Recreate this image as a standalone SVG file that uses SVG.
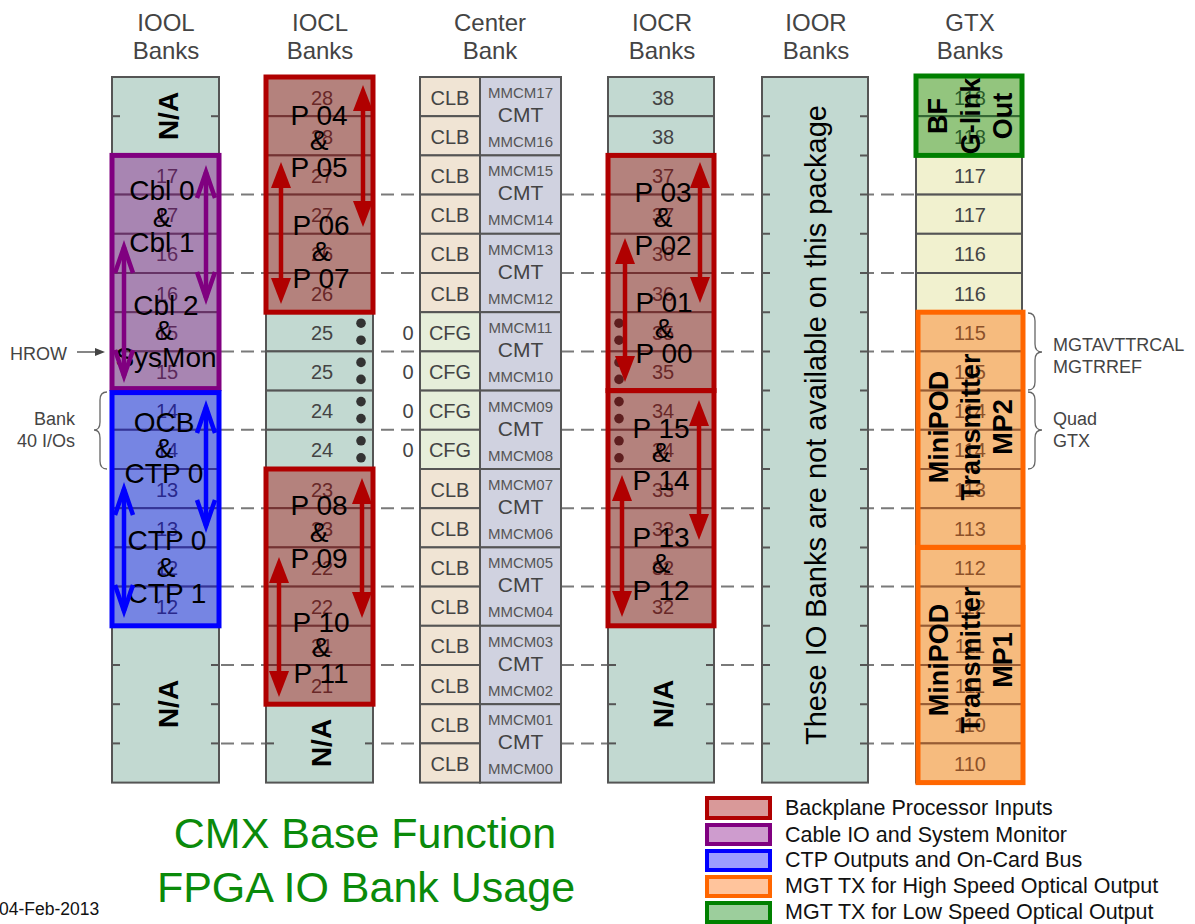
<svg xmlns="http://www.w3.org/2000/svg" width="1195" height="924" viewBox="0 0 1195 924">
<defs>
<style>
text{font-family:"Liberation Sans",Arial,sans-serif}
.hdr{font-size:24px;fill:#444;text-anchor:middle}
.cell{fill:#c2d9d1;stroke:#555;stroke-width:2}
.clb{fill:#f0e4d4;stroke:#555;stroke-width:2}
.cfg{fill:#e6eeda;stroke:#555;stroke-width:2}
.cmt{fill:#d0d2e0;stroke:#555;stroke-width:2}
.gtx{fill:#f1f1cf;stroke:#555;stroke-width:2}
.num{font-size:20px;fill:#444;text-anchor:middle}
.mm{font-size:15px;fill:#555;text-anchor:middle}
.cmtt{font-size:21px;fill:#444;text-anchor:middle}
.tick{stroke:#555;stroke-width:2}
.dot{fill:#333}
.na{font-size:28px;font-weight:bold;fill:#000;text-anchor:middle}
.big{font-size:28px;fill:#000;text-anchor:middle}
.bigb{font-size:27px;font-weight:bold;fill:#000;text-anchor:middle}
.dash{stroke:#7a7a7a;stroke-width:2;stroke-dasharray:13 7}
.ovR{fill:#a00000;fill-opacity:.4;stroke:#b00000;stroke-width:5}
.ovP{fill:#800080;fill-opacity:.39;stroke:#800080;stroke-width:5}
.ovB{fill:#0000ff;fill-opacity:.39;stroke:#0000ff;stroke-width:5}
.ovO{fill:#ff6600;fill-opacity:.39;stroke:#ff6600;stroke-width:5}
.ovG{fill:#008000;fill-opacity:.39;stroke:#008000;stroke-width:5}
.side{font-size:18px;fill:#444}
.brace{fill:none;stroke:#666;stroke-width:1.3}
.leg{font-size:21.5px;fill:#111}
.title{font-size:43px;fill:#0a8a0a;text-anchor:middle}
.aR{stroke:#b00000;stroke-width:4.5;fill:none;marker-start:url(#hR);marker-end:url(#hR)}
.aP{stroke:#800080;stroke-width:4.5;fill:none;marker-start:url(#hP);marker-end:url(#hP)}
.aB{stroke:#0000ff;stroke-width:4.5;fill:none;marker-start:url(#hB);marker-end:url(#hB)}
</style>
<marker id="hR" markerUnits="userSpaceOnUse" markerWidth="30" markerHeight="24" viewBox="0 0 30 24" refX="16" refY="12" orient="auto-start-reverse"><path d="M0,2 L26,12 L0,22 z" fill="#b00000"/></marker>
<marker id="hP" markerUnits="userSpaceOnUse" markerWidth="40" markerHeight="30" viewBox="-4 -3 40 30" refX="27" refY="12" orient="auto-start-reverse" overflow="visible"><path d="M1,3 L27,12 L1,21" fill="none" stroke="#800080" stroke-width="4.5"/></marker>
<marker id="hB" markerUnits="userSpaceOnUse" markerWidth="40" markerHeight="30" viewBox="-4 -3 40 30" refX="27" refY="12" orient="auto-start-reverse" overflow="visible"><path d="M1,3 L27,12 L1,21" fill="none" stroke="#0000ff" stroke-width="4.5"/></marker>
<marker id="hG" markerUnits="userSpaceOnUse" markerWidth="10" markerHeight="8" viewBox="0 0 10 8" refX="0" refY="4" orient="auto"><path d="M0,0 L10,4 L0,8 z" fill="#444"/></marker>
</defs>
<rect width="1195" height="924" fill="#fff"/>

<g id="headers">
<text class="hdr" x="166" y="31">IOOL</text><text class="hdr" x="166" y="59">Banks</text>
<text class="hdr" x="320" y="31">IOCL</text><text class="hdr" x="320" y="59">Banks</text>
<text class="hdr" x="490" y="31">Center</text><text class="hdr" x="490" y="59">Bank</text>
<text class="hdr" x="662" y="31">IOCR</text><text class="hdr" x="662" y="59">Banks</text>
<text class="hdr" x="816" y="31">IOOR</text><text class="hdr" x="816" y="59">Banks</text>
<text class="hdr" x="970" y="31">GTX</text><text class="hdr" x="970" y="59">Banks</text>
</g>

<g id="clock-rows">
<line class="dash" x1="221" y1="194.6" x2="914" y2="194.6"/>
<line class="dash" x1="221" y1="273" x2="914" y2="273"/>
<line class="dash" x1="221" y1="351.4" x2="914" y2="351.4"/>
<line class="dash" x1="221" y1="429.8" x2="914" y2="429.8"/>
<line class="dash" x1="221" y1="508.2" x2="914" y2="508.2"/>
<line class="dash" x1="221" y1="586.6" x2="914" y2="586.6"/>
<line class="dash" x1="221" y1="665" x2="914" y2="665"/>
<line class="dash" x1="221" y1="743.4" x2="914" y2="743.4"/>
</g>

<g id="iool">
<rect class="cell" x="112" y="77" width="107" height="78.4"/>
<line class="tick" x1="112" y1="116.2" x2="120" y2="116.2"/><line class="tick" x1="211" y1="116.2" x2="219" y2="116.2"/>
<text class="na" transform="translate(178,116) rotate(-90)">N/A</text>
<rect class="cell" x="112" y="155.4" width="107" height="39.2"/><text class="num" x="167" y="182.9">17</text>
<rect class="cell" x="112" y="194.6" width="107" height="39.2"/><text class="num" x="167" y="222.1">17</text>
<rect class="cell" x="112" y="233.8" width="107" height="39.2"/><text class="num" x="167" y="261.3">16</text>
<rect class="cell" x="112" y="273" width="107" height="39.2"/><text class="num" x="167" y="300.5">16</text>
<rect class="cell" x="112" y="312.2" width="107" height="39.2"/><text class="num" x="167" y="339.7">15</text>
<rect class="cell" x="112" y="351.4" width="107" height="39.2"/><text class="num" x="167" y="378.9">15</text>
<rect class="cell" x="112" y="390.6" width="107" height="39.2"/><text class="num" x="167" y="418.1">14</text>
<rect class="cell" x="112" y="429.8" width="107" height="39.2"/><text class="num" x="167" y="457.3">14</text>
<rect class="cell" x="112" y="469" width="107" height="39.2"/><text class="num" x="167" y="496.5">13</text>
<rect class="cell" x="112" y="508.2" width="107" height="39.2"/><text class="num" x="167" y="535.7">13</text>
<rect class="cell" x="112" y="547.4" width="107" height="39.2"/><text class="num" x="167" y="574.9">12</text>
<rect class="cell" x="112" y="586.6" width="107" height="39.2"/><text class="num" x="167" y="614.1">12</text>
<rect class="cell" x="112" y="625.8" width="107" height="156.8"/>
<line class="tick" x1="112" y1="665" x2="120" y2="665"/><line class="tick" x1="211" y1="665" x2="219" y2="665"/>
<line class="tick" x1="112" y1="704.2" x2="120" y2="704.2"/><line class="tick" x1="211" y1="704.2" x2="219" y2="704.2"/>
<line class="tick" x1="112" y1="743.4" x2="120" y2="743.4"/><line class="tick" x1="211" y1="743.4" x2="219" y2="743.4"/>
<text class="na" transform="translate(178,704) rotate(-90)">N/A</text>
</g>

<g id="iocl">
<rect class="cell" x="266" y="77" width="107" height="39.2"/><text class="num" x="322" y="104.5">28</text>
<rect class="cell" x="266" y="116.2" width="107" height="39.2"/><text class="num" x="322" y="143.7">28</text>
<rect class="cell" x="266" y="155.4" width="107" height="39.2"/><text class="num" x="322" y="182.9">27</text>
<rect class="cell" x="266" y="194.6" width="107" height="39.2"/><text class="num" x="322" y="222.1">27</text>
<rect class="cell" x="266" y="233.8" width="107" height="39.2"/><text class="num" x="322" y="261.3">26</text>
<rect class="cell" x="266" y="273" width="107" height="39.2"/><text class="num" x="322" y="300.5">26</text>
<rect class="cell" x="266" y="312.2" width="107" height="39.2"/><text class="num" x="322" y="339.7">25</text>
<rect class="cell" x="266" y="351.4" width="107" height="39.2"/><text class="num" x="322" y="378.9">25</text>
<rect class="cell" x="266" y="390.6" width="107" height="39.2"/><text class="num" x="322" y="418.1">24</text>
<rect class="cell" x="266" y="429.8" width="107" height="39.2"/><text class="num" x="322" y="457.3">24</text>
<rect class="cell" x="266" y="469" width="107" height="39.2"/><text class="num" x="322" y="496.5">23</text>
<rect class="cell" x="266" y="508.2" width="107" height="39.2"/><text class="num" x="322" y="535.7">23</text>
<rect class="cell" x="266" y="547.4" width="107" height="39.2"/><text class="num" x="322" y="574.9">22</text>
<rect class="cell" x="266" y="586.6" width="107" height="39.2"/><text class="num" x="322" y="614.1">22</text>
<rect class="cell" x="266" y="625.8" width="107" height="39.2"/><text class="num" x="322" y="653.3">21</text>
<rect class="cell" x="266" y="665" width="107" height="39.2"/><text class="num" x="322" y="692.5">21</text>
<circle class="dot" cx="361" cy="323.2" r="4.8"/><circle class="dot" cx="361" cy="340.2" r="4.8"/>
<circle class="dot" cx="361" cy="362.4" r="4.8"/><circle class="dot" cx="361" cy="379.4" r="4.8"/>
<circle class="dot" cx="361" cy="401.6" r="4.8"/><circle class="dot" cx="361" cy="418.6" r="4.8"/>
<circle class="dot" cx="361" cy="440.8" r="4.8"/><circle class="dot" cx="361" cy="457.8" r="4.8"/>
<rect class="cell" x="266" y="704.2" width="107" height="78.4"/>
<line class="tick" x1="266" y1="743.4" x2="274" y2="743.4"/><line class="tick" x1="365" y1="743.4" x2="373" y2="743.4"/>
<text class="na" transform="translate(331,743) rotate(-90)">N/A</text>
</g>

<g id="center">
<rect class="clb" x="420" y="77" width="60" height="39.2"/><text class="num" x="450" y="104.5">CLB</text>
<rect class="clb" x="420" y="116.2" width="60" height="39.2"/><text class="num" x="450" y="143.7">CLB</text>
<rect class="clb" x="420" y="155.4" width="60" height="39.2"/><text class="num" x="450" y="182.9">CLB</text>
<rect class="clb" x="420" y="194.6" width="60" height="39.2"/><text class="num" x="450" y="222.1">CLB</text>
<rect class="clb" x="420" y="233.8" width="60" height="39.2"/><text class="num" x="450" y="261.3">CLB</text>
<rect class="clb" x="420" y="273" width="60" height="39.2"/><text class="num" x="450" y="300.5">CLB</text>
<rect class="cfg" x="420" y="312.2" width="60" height="39.2"/><text class="num" x="450" y="339.7">CFG</text>
<rect class="cfg" x="420" y="351.4" width="60" height="39.2"/><text class="num" x="450" y="378.9">CFG</text>
<rect class="cfg" x="420" y="390.6" width="60" height="39.2"/><text class="num" x="450" y="418.1">CFG</text>
<rect class="cfg" x="420" y="429.8" width="60" height="39.2"/><text class="num" x="450" y="457.3">CFG</text>
<rect class="clb" x="420" y="469" width="60" height="39.2"/><text class="num" x="450" y="496.5">CLB</text>
<rect class="clb" x="420" y="508.2" width="60" height="39.2"/><text class="num" x="450" y="535.7">CLB</text>
<rect class="clb" x="420" y="547.4" width="60" height="39.2"/><text class="num" x="450" y="574.9">CLB</text>
<rect class="clb" x="420" y="586.6" width="60" height="39.2"/><text class="num" x="450" y="614.1">CLB</text>
<rect class="clb" x="420" y="625.8" width="60" height="39.2"/><text class="num" x="450" y="653.3">CLB</text>
<rect class="clb" x="420" y="665" width="60" height="39.2"/><text class="num" x="450" y="692.5">CLB</text>
<rect class="clb" x="420" y="704.2" width="60" height="39.2"/><text class="num" x="450" y="731.7">CLB</text>
<rect class="clb" x="420" y="743.4" width="60" height="39.2"/><text class="num" x="450" y="770.9">CLB</text>
<text class="num" x="408" y="339.7">0</text><text class="num" x="408" y="378.9">0</text>
<text class="num" x="408" y="418.1">0</text><text class="num" x="408" y="457.3">0</text>
<rect class="cmt" x="480" y="77" width="81" height="78.4"/><text class="mm" x="520.5" y="98">MMCM17</text><text class="cmtt" x="520.5" y="122">CMT</text><text class="mm" x="520.5" y="147">MMCM16</text>
<rect class="cmt" x="480" y="155.4" width="81" height="78.4"/><text class="mm" x="520.5" y="176.4">MMCM15</text><text class="cmtt" x="520.5" y="200.4">CMT</text><text class="mm" x="520.5" y="225.4">MMCM14</text>
<rect class="cmt" x="480" y="233.8" width="81" height="78.4"/><text class="mm" x="520.5" y="254.8">MMCM13</text><text class="cmtt" x="520.5" y="278.8">CMT</text><text class="mm" x="520.5" y="303.8">MMCM12</text>
<rect class="cmt" x="480" y="312.2" width="81" height="78.4"/><text class="mm" x="520.5" y="333.2">MMCM11</text><text class="cmtt" x="520.5" y="357.2">CMT</text><text class="mm" x="520.5" y="382.2">MMCM10</text>
<rect class="cmt" x="480" y="390.6" width="81" height="78.4"/><text class="mm" x="520.5" y="411.6">MMCM09</text><text class="cmtt" x="520.5" y="435.6">CMT</text><text class="mm" x="520.5" y="460.6">MMCM08</text>
<rect class="cmt" x="480" y="469" width="81" height="78.4"/><text class="mm" x="520.5" y="490">MMCM07</text><text class="cmtt" x="520.5" y="514">CMT</text><text class="mm" x="520.5" y="539">MMCM06</text>
<rect class="cmt" x="480" y="547.4" width="81" height="78.4"/><text class="mm" x="520.5" y="568.4">MMCM05</text><text class="cmtt" x="520.5" y="592.4">CMT</text><text class="mm" x="520.5" y="617.4">MMCM04</text>
<rect class="cmt" x="480" y="625.8" width="81" height="78.4"/><text class="mm" x="520.5" y="646.8">MMCM03</text><text class="cmtt" x="520.5" y="670.8">CMT</text><text class="mm" x="520.5" y="695.8">MMCM02</text>
<rect class="cmt" x="480" y="704.2" width="81" height="78.4"/><text class="mm" x="520.5" y="725.2">MMCM01</text><text class="cmtt" x="520.5" y="749.2">CMT</text><text class="mm" x="520.5" y="774.2">MMCM00</text>
</g>

<g id="iocr">
<rect class="cell" x="608" y="77" width="106" height="39.2"/><text class="num" x="663" y="104.5">38</text>
<rect class="cell" x="608" y="116.2" width="106" height="39.2"/><text class="num" x="663" y="143.7">38</text>
<rect class="cell" x="608" y="155.4" width="106" height="39.2"/><text class="num" x="663" y="182.9">37</text>
<rect class="cell" x="608" y="194.6" width="106" height="39.2"/><text class="num" x="663" y="222.1">37</text>
<rect class="cell" x="608" y="233.8" width="106" height="39.2"/><text class="num" x="663" y="261.3">36</text>
<rect class="cell" x="608" y="273" width="106" height="39.2"/><text class="num" x="663" y="300.5">36</text>
<rect class="cell" x="608" y="312.2" width="106" height="39.2"/><text class="num" x="663" y="339.7">35</text>
<rect class="cell" x="608" y="351.4" width="106" height="39.2"/><text class="num" x="663" y="378.9">35</text>
<rect class="cell" x="608" y="390.6" width="106" height="39.2"/><text class="num" x="663" y="418.1">34</text>
<rect class="cell" x="608" y="429.8" width="106" height="39.2"/><text class="num" x="663" y="457.3">34</text>
<rect class="cell" x="608" y="469" width="106" height="39.2"/><text class="num" x="663" y="496.5">33</text>
<rect class="cell" x="608" y="508.2" width="106" height="39.2"/><text class="num" x="663" y="535.7">33</text>
<rect class="cell" x="608" y="547.4" width="106" height="39.2"/><text class="num" x="663" y="574.9">32</text>
<rect class="cell" x="608" y="586.6" width="106" height="39.2"/><text class="num" x="663" y="614.1">32</text>
<circle class="dot" cx="619" cy="323.2" r="4.8"/><circle class="dot" cx="619" cy="340.2" r="4.8"/>
<circle class="dot" cx="619" cy="362.4" r="4.8"/><circle class="dot" cx="619" cy="379.4" r="4.8"/>
<circle class="dot" cx="619" cy="401.6" r="4.8"/><circle class="dot" cx="619" cy="418.6" r="4.8"/>
<circle class="dot" cx="619" cy="440.8" r="4.8"/><circle class="dot" cx="619" cy="457.8" r="4.8"/>
<rect class="cell" x="608" y="625.8" width="106" height="156.8"/>
<line class="tick" x1="608" y1="665" x2="616" y2="665"/><line class="tick" x1="706" y1="665" x2="714" y2="665"/>
<line class="tick" x1="608" y1="704.2" x2="616" y2="704.2"/><line class="tick" x1="706" y1="704.2" x2="714" y2="704.2"/>
<line class="tick" x1="608" y1="743.4" x2="616" y2="743.4"/><line class="tick" x1="706" y1="743.4" x2="714" y2="743.4"/>
<text class="na" transform="translate(673,704) rotate(-90)">N/A</text>
</g>

<g id="ioor">
<rect class="cell" x="762" y="77" width="106" height="705.6"/>
<path class="tick" d="M762,116.2h8M762,155.4h8M762,194.6h8M762,233.8h8M762,273h8M762,312.2h8M762,351.4h8M762,390.6h8M762,429.8h8M762,469h8M762,508.2h8M762,547.4h8M762,586.6h8M762,625.8h8M762,665h8M762,704.2h8M762,743.4h8"/>
<path class="tick" d="M860,116.2h8M860,155.4h8M860,194.6h8M860,233.8h8M860,273h8M860,312.2h8M860,351.4h8M860,390.6h8M860,429.8h8M860,469h8M860,508.2h8M860,547.4h8M860,586.6h8M860,625.8h8M860,665h8M860,704.2h8M860,743.4h8"/>
<text class="big" style="font-size:29px" transform="translate(826,425) rotate(-90)">These IO Banks are not available on this package</text>
</g>

<g id="gtx">
<rect class="gtx" x="916" y="77" width="106" height="39.2"/><text class="num" x="970" y="104.5">118</text>
<rect class="gtx" x="916" y="116.2" width="106" height="39.2"/><text class="num" x="970" y="143.7">118</text>
<rect class="gtx" x="916" y="155.4" width="106" height="39.2"/><text class="num" x="970" y="182.9">117</text>
<rect class="gtx" x="916" y="194.6" width="106" height="39.2"/><text class="num" x="970" y="222.1">117</text>
<rect class="gtx" x="916" y="233.8" width="106" height="39.2"/><text class="num" x="970" y="261.3">116</text>
<rect class="gtx" x="916" y="273" width="106" height="39.2"/><text class="num" x="970" y="300.5">116</text>
<rect class="gtx" x="916" y="312.2" width="106" height="39.2"/><text class="num" x="970" y="339.7">115</text>
<rect class="gtx" x="916" y="351.4" width="106" height="39.2"/><text class="num" x="970" y="378.9">115</text>
<rect class="gtx" x="916" y="390.6" width="106" height="39.2"/><text class="num" x="970" y="418.1">114</text>
<rect class="gtx" x="916" y="429.8" width="106" height="39.2"/><text class="num" x="970" y="457.3">114</text>
<rect class="gtx" x="916" y="469" width="106" height="39.2"/><text class="num" x="970" y="496.5">113</text>
<rect class="gtx" x="916" y="508.2" width="106" height="39.2"/><text class="num" x="970" y="535.7">113</text>
<rect class="gtx" x="916" y="547.4" width="106" height="39.2"/><text class="num" x="970" y="574.9">112</text>
<rect class="gtx" x="916" y="586.6" width="106" height="39.2"/><text class="num" x="970" y="614.1">112</text>
<rect class="gtx" x="916" y="625.8" width="106" height="39.2"/><text class="num" x="970" y="653.3">111</text>
<rect class="gtx" x="916" y="665" width="106" height="39.2"/><text class="num" x="970" y="692.5">111</text>
<rect class="gtx" x="916" y="704.2" width="106" height="39.2"/><text class="num" x="970" y="731.7">110</text>
<rect class="gtx" x="916" y="743.4" width="106" height="39.2"/><text class="num" x="970" y="770.9">110</text>
</g>

<g id="cable-io">
<rect class="ovP" x="112" y="155.4" width="107" height="233.2"/>
<text class="big" x="162" y="200">Cbl 0</text><text class="big" x="162" y="227">&amp;</text><text class="big" x="162" y="252">Cbl 1</text>
<text class="big" x="166" y="315">Cbl 2</text><text class="big" x="164" y="340">&amp;</text><text class="big" x="166" y="367">SysMon</text>
</g>
<g id="ctp-ocb">
<rect class="ovB" x="112" y="392.6" width="107" height="233.2"/>
<text class="big" x="164" y="432">OCB</text><text class="big" x="164" y="458">&amp;</text><text class="big" x="164" y="483">CTP 0</text>
<text class="big" x="167" y="550">CTP 0</text><text class="big" x="166" y="577">&amp;</text><text class="big" x="167" y="603">CTP 1</text>
</g>
<g id="iocl-p04-p07">
<rect class="ovR" x="266" y="77" width="107" height="235.2"/>
<text class="big" x="319" y="125">P 04</text><text class="big" x="319" y="150">&amp;</text><text class="big" x="319" y="177">P 05</text>
<text class="big" x="321" y="235">P 06</text><text class="big" x="321" y="261">&amp;</text><text class="big" x="321" y="288">P 07</text>
</g>
<g id="iocl-p08-p11">
<rect class="ovR" x="266" y="469" width="107" height="235.2"/>
<text class="big" x="319" y="515">P 08</text><text class="big" x="319" y="542">&amp;</text><text class="big" x="319" y="568">P 09</text>
<text class="big" x="321" y="632">P 10</text><text class="big" x="321" y="657">&amp;</text><text class="big" x="321" y="683">P 11</text>
</g>
<g id="iocr-p00-p03">
<rect class="ovR" x="608" y="155.4" width="106" height="235.2"/>
<text class="big" x="663" y="202">P 03</text><text class="big" x="663" y="227">&amp;</text><text class="big" x="663" y="255">P 02</text>
<text class="big" x="664" y="312">P 01</text><text class="big" x="664" y="338">&amp;</text><text class="big" x="664" y="363">P 00</text>
</g>
<g id="iocr-p12-p15">
<rect class="ovR" x="608" y="390.6" width="106" height="235.2"/>
<text class="big" x="661" y="438">P 15</text><text class="big" x="661" y="462">&amp;</text><text class="big" x="661" y="490">P 14</text>
<text class="big" x="661" y="547">P 13</text><text class="big" x="661" y="573">&amp;</text><text class="big" x="661" y="600">P 12</text>
</g>
<g id="bf-glink">
<rect class="ovG" x="916" y="76" width="106" height="79.4"/>
<g transform="translate(969,116) rotate(-90)">
<text class="bigb" x="0" y="-22">BF</text><text class="bigb" x="0" y="10.5">G-link</text><text class="bigb" x="0" y="43">Out</text>
</g>
</g>
<g id="minipod-mp2">
<rect class="ovO" x="918" y="312.2" width="105" height="235.2"/>
<g transform="translate(969,427) rotate(-90)">
<text class="bigb" x="0" y="-21">MiniPOD</text><text class="bigb" x="0" y="11">Transmitter</text><text class="bigb" x="0" y="43">MP2</text>
</g>
</g>
<g id="minipod-mp1">
<rect class="ovO" x="918" y="547.4" width="105" height="235.2"/>
<g transform="translate(969,660) rotate(-90)">
<text class="bigb" x="0" y="-21">MiniPOD</text><text class="bigb" x="0" y="11">Transmitter</text><text class="bigb" x="0" y="43">MP1</text>
</g>
</g>

<g id="connectors">
<line class="aP" x1="206" y1="172" x2="206" y2="298"/>
<line class="aP" x1="124" y1="247" x2="124" y2="376"/>
<line class="aB" x1="206" y1="407" x2="206" y2="526"/>
<line class="aB" x1="124" y1="489" x2="124" y2="611"/>
<line class="aR" x1="363" y1="95" x2="363" y2="217"/>
<line class="aR" x1="281" y1="172" x2="281" y2="294"/>
<line class="aR" x1="362" y1="488" x2="362" y2="608"/>
<line class="aR" x1="279" y1="567" x2="279" y2="687"/>
<line class="aR" x1="700" y1="172" x2="700" y2="293"/>
<line class="aR" x1="625" y1="248" x2="625" y2="372"/>
<line class="aR" x1="699" y1="410" x2="699" y2="530"/>
<line class="aR" x1="622" y1="485" x2="622" y2="607"/>
<line x1="77" y1="352" x2="95" y2="352" stroke="#444" stroke-width="1.3" marker-end="url(#hG)"/>
</g>

<g id="annotations">
<text class="side" x="10" y="360">HROW</text>
<text class="side" x="75" y="425" text-anchor="end">Bank</text>
<text class="side" x="75" y="447" text-anchor="end">40 I/Os</text>
<path class="brace" d="M107,392 Q100,392 100,400 L100,422 Q100,430 94,430 Q100,430 100,438 L100,461 Q100,469 107,469"/>
<path class="brace" d="M1028,313 Q1035,313 1035,321 L1035,344 Q1035,352 1042,352 Q1035,352 1035,360 L1035,382 Q1035,390 1028,390"/>
<path class="brace" d="M1028,392 Q1035,392 1035,400 L1035,422 Q1035,430 1042,430 Q1035,430 1035,438 L1035,461 Q1035,469 1028,469"/>
<text class="side" x="1053" y="351">MGTAVTTRCAL</text>
<text class="side" x="1053" y="373">MGTRREF</text>
<text class="side" x="1053" y="425">Quad</text>
<text class="side" x="1053" y="447">GTX</text>
</g>

<g id="title">
<text class="title" x="365" y="848">CMX Base Function</text>
<text class="title" x="366" y="902">FPGA IO Bank Usage</text>
<text x="-1" y="915" style="font-size:17.5px;fill:#111">04-Feb-2013</text>
</g>

<g id="legend">
<rect class="ovR" x="707" y="798" width="63" height="20" style="stroke-width:4"/><text class="leg" x="785" y="815">Backplane Processor Inputs</text>
<rect class="ovP" x="707" y="825" width="63" height="19" style="stroke-width:4"/><text class="leg" x="785" y="842">Cable IO and System Monitor</text>
<rect class="ovB" x="707" y="851" width="63" height="19" style="stroke-width:4"/><text class="leg" x="785" y="867">CTP Outputs and On-Card Bus</text>
<rect class="ovO" x="707" y="877" width="63" height="19" style="stroke-width:4"/><text class="leg" x="785" y="893">MGT TX for High Speed Optical Output</text>
<rect class="ovG" x="707" y="903" width="63" height="19" style="stroke-width:4"/><text class="leg" x="785" y="919">MGT TX for Low Speed Optical Output</text>
</g>
</svg>
